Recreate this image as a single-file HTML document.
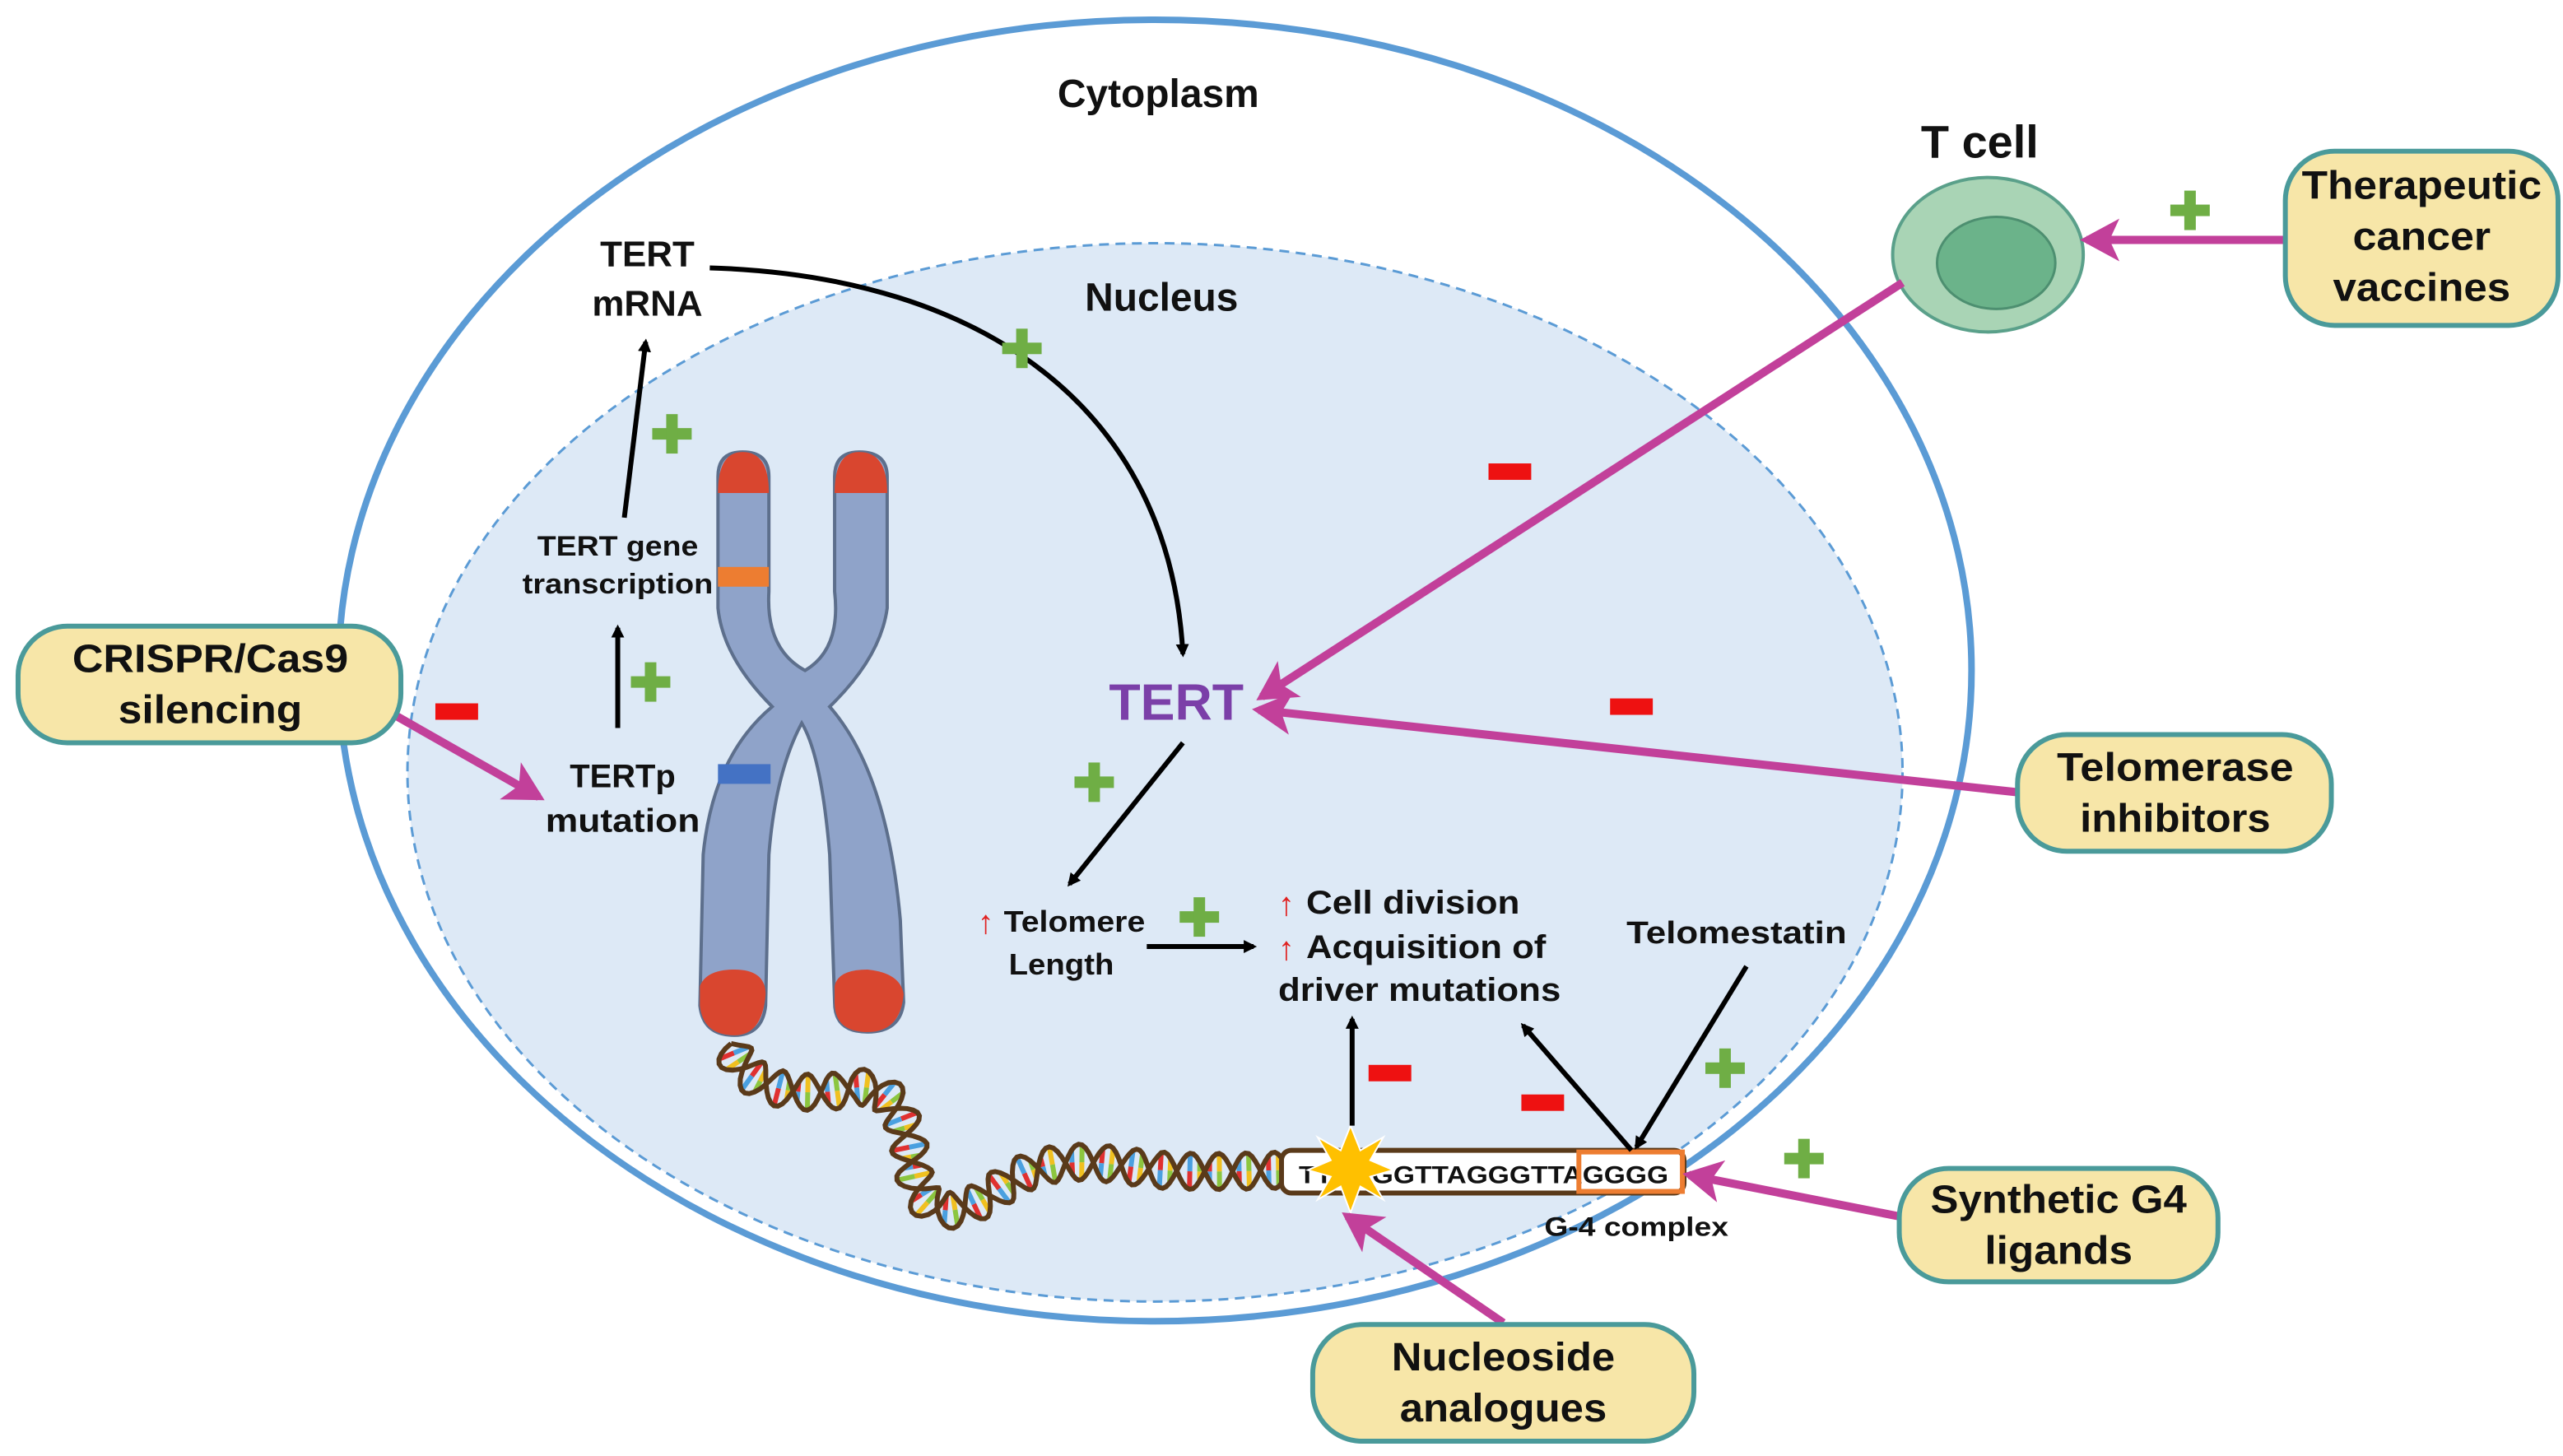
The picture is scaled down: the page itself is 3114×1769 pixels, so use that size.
<!DOCTYPE html>
<html><head><meta charset="utf-8"><style>
html,body{margin:0;padding:0;background:#fff;}
svg{display:block;}
text{font-family:"Liberation Sans",sans-serif;font-weight:bold;fill:#111;text-anchor:middle;}
</style></head><body>
<svg id="s" width="3114" height="1769" viewBox="0 0 1560 886" preserveAspectRatio="none" xmlns="http://www.w3.org/2000/svg">
<defs>
<marker id="ab" markerWidth="8" markerHeight="8" refX="6" refY="4" orient="auto" markerUnits="userSpaceOnUse"><path d="M0,0 L8,4 L0,8 z" fill="#000"/></marker>
<marker id="am" markerWidth="26" markerHeight="26" refX="20" refY="13" orient="auto" markerUnits="userSpaceOnUse"><path d="M0,0 L24,13 L0,26 L6,13 z" fill="#c2409a"/></marker>
</defs>
<rect width="1560" height="886" fill="#fff"/>
<ellipse cx="703" cy="408" rx="497" ry="396" fill="#fff" stroke="#5b9bd5" stroke-width="4"/>
<ellipse cx="703" cy="470" rx="455" ry="322" fill="#dde9f6" stroke="#5b9bd5" stroke-width="1.5" stroke-dasharray="6,4"/>
<text x="705" y="65" font-size="24">Cytoplasm</text>
<text x="707" y="189" font-size="24">Nucleus</text>
<text x="1205" y="96" font-size="28">T cell</text>
<!-- chromosome -->
<path d="M437,290 Q437,275 452,275 Q468,275 468,290 L468,360 Q466,395 490,408 Q512,395 508,360 L508,290 Q508,275 523,275 Q540,275 540,290 L540,370 Q536,400 505,430 Q540,470 548,560 L550,610 Q548,628 528,628 Q508,628 508,610 L505,520 Q500,460 488,440 Q472,470 468,520 L466,612 Q464,630 447,630 Q428,630 426,612 L428,520 Q434,460 470,430 Q440,400 437,370 Z" fill="#8fa3c9" stroke="#5d6f8c" stroke-width="2"/>
<path d="M437,300 Q437,275 452,275 Q468,275 468,300 Z" fill="#d9462f"/>
<path d="M508,300 Q508,275 523,275 Q540,275 540,300 Z" fill="#d9462f"/>
<path d="M426,600 Q430,590 447,590 Q466,590 466,605 Q464,630 447,630 Q428,630 426,612 Z" fill="#d9462f"/>
<path d="M508,600 Q510,590 528,590 Q548,592 550,605 Q548,628 528,628 Q508,628 508,610 Z" fill="#d9462f"/>
<rect x="437" y="345" width="31" height="12" fill="#ed7d31"/>
<rect x="437" y="465" width="32" height="12" fill="#4472c4"/>
<!-- DNA -->
<g id="dna" fill="none" stroke="#5a3a1a" stroke-width="3">
<path d="M445,635 C450,660 480,670 520,662 C548,658 552,690 556,712 C560,740 580,745 610,722 C640,700 670,708 705,712 C740,714 765,712 790,712"/>
</g>
<rect x="780" y="700" width="245" height="26" rx="6" fill="#fff" stroke="#5a3a1a" stroke-width="3"/>
<text x="903" y="720" font-size="15" textLength="225" lengthAdjust="spacingAndGlyphs">TTAGGGTTAGGGTTAGGGG</text>
<rect x="961" y="701" width="63" height="24" fill="none" stroke="#ed7d31" stroke-width="3"/>
<polygon points="822,685 828,700 842,692 834,706 848,712 834,716 842,730 828,722 822,738 816,722 802,730 810,716 796,712 810,706 802,692 816,700" fill="#ffc000" stroke="#fff" stroke-width="1"/>
<text x="996" y="752" font-size="16" textLength="112" lengthAdjust="spacingAndGlyphs">G-4 complex</text>
<!-- texts -->
<text x="394" y="162" font-size="22">TERT</text>
<text x="394" y="192" font-size="22">mRNA</text>
<text x="376" y="338" font-size="17" textLength="98" lengthAdjust="spacingAndGlyphs">TERT gene</text>
<text x="376" y="361" font-size="17" textLength="116" lengthAdjust="spacingAndGlyphs">transcription</text>
<text x="379" y="479" font-size="20">TERTp</text>
<text x="379" y="506" font-size="20" textLength="94" lengthAdjust="spacingAndGlyphs">mutation</text>
<text x="716" y="438" font-size="31" style="fill:#7b3fa8" textLength="82" lengthAdjust="spacingAndGlyphs">TERT</text>
<text x="654" y="567" font-size="18" textLength="86" lengthAdjust="spacingAndGlyphs">Telomere</text>
<text x="646" y="593" font-size="18" textLength="64" lengthAdjust="spacingAndGlyphs">Length</text>
<text x="600" y="568" font-size="20" style="fill:#e02020">↑</text>
<text x="860" y="556" font-size="20" textLength="130" lengthAdjust="spacingAndGlyphs">Cell division</text>
<text x="868" y="583" font-size="20" textLength="146" lengthAdjust="spacingAndGlyphs">Acquisition of</text>
<text x="864" y="609" font-size="20" textLength="172" lengthAdjust="spacingAndGlyphs">driver mutations</text>
<text x="783" y="557" font-size="20" style="fill:#e02020">↑</text>
<text x="783" y="584" font-size="20" style="fill:#e02020">↑</text>
<text x="1057" y="574" font-size="19" textLength="134" lengthAdjust="spacingAndGlyphs">Telomestatin</text>
<!-- black arrows -->
<g stroke="#000" stroke-width="3" fill="none" marker-end="url(#ab)">
<path d="M432,163 C600,168 712,250 720,398"/>
<line x1="380" y1="315" x2="393" y2="208"/>
<line x1="376" y1="443" x2="376" y2="382"/>
<line x1="720" y1="452" x2="651" y2="538"/>
<line x1="698" y1="576" x2="763" y2="576"/>
<line x1="823" y1="685" x2="823" y2="620"/>
<line x1="993" y1="700" x2="927" y2="624"/>
<line x1="1063" y1="588" x2="996" y2="698"/>
</g>
<!-- T cell -->
<ellipse cx="1210" cy="155" rx="58" ry="47" fill="#a9d4b5" stroke="#5aa08a" stroke-width="2"/>
<ellipse cx="1215" cy="160" rx="36" ry="28" fill="#6bb38a" stroke="#4d8f70" stroke-width="1.5"/>
<!-- magenta arrows -->
<g stroke="#c2409a" stroke-width="5" fill="none" marker-end="url(#am)">
<line x1="1390" y1="146" x2="1270" y2="146"/>
<line x1="1158" y1="172" x2="768" y2="424"/>
<line x1="1227" y1="482" x2="766" y2="432"/>
<line x1="240" y1="435" x2="328" y2="485"/>
<line x1="1155" y1="740" x2="1028" y2="715"/>
<line x1="915" y1="805" x2="820" y2="740"/>
</g>
<!-- boxes -->
<g fill="#f7e6a8" stroke="#4a9a9a" stroke-width="3">
<rect x="11" y="381" width="233" height="71" rx="30"/>
<rect x="1391" y="92" width="166" height="106" rx="30"/>
<rect x="1228" y="447" width="191" height="71" rx="30"/>
<rect x="1156" y="711" width="194" height="69" rx="30"/>
<rect x="799" y="806" width="232" height="71" rx="30"/>
</g>
<text x="128" y="409" font-size="24" textLength="168" lengthAdjust="spacingAndGlyphs">CRISPR/Cas9</text>
<text x="128" y="440" font-size="24" textLength="112" lengthAdjust="spacingAndGlyphs">silencing</text>
<text x="1474" y="121" font-size="24" textLength="146" lengthAdjust="spacingAndGlyphs">Therapeutic</text>
<text x="1474" y="152" font-size="24" textLength="84" lengthAdjust="spacingAndGlyphs">cancer</text>
<text x="1474" y="183" font-size="24" textLength="108" lengthAdjust="spacingAndGlyphs">vaccines</text>
<text x="1324" y="475" font-size="24" textLength="144" lengthAdjust="spacingAndGlyphs">Telomerase</text>
<text x="1324" y="506" font-size="24" textLength="116" lengthAdjust="spacingAndGlyphs">inhibitors</text>
<text x="1253" y="738" font-size="24" textLength="156" lengthAdjust="spacingAndGlyphs">Synthetic G4</text>
<text x="1253" y="769" font-size="24" textLength="90" lengthAdjust="spacingAndGlyphs">ligands</text>
<text x="915" y="834" font-size="24" textLength="136" lengthAdjust="spacingAndGlyphs">Nucleoside</text>
<text x="915" y="865" font-size="24" textLength="126" lengthAdjust="spacingAndGlyphs">analogues</text>
<!-- plus -->
<g fill="#6fae45">
<g transform="translate(622,212)"><rect x="-12" y="-3.5" width="24" height="7"/><rect x="-3.5" y="-12" width="7" height="24"/></g>
<g transform="translate(409,264)"><rect x="-12" y="-3.5" width="24" height="7"/><rect x="-3.5" y="-12" width="7" height="24"/></g>
<g transform="translate(396,415)"><rect x="-12" y="-3.5" width="24" height="7"/><rect x="-3.5" y="-12" width="7" height="24"/></g>
<g transform="translate(666,476)"><rect x="-12" y="-3.5" width="24" height="7"/><rect x="-3.5" y="-12" width="7" height="24"/></g>
<g transform="translate(730,558)"><rect x="-12" y="-3.5" width="24" height="7"/><rect x="-3.5" y="-12" width="7" height="24"/></g>
<g transform="translate(1333,128)"><rect x="-12" y="-3.5" width="24" height="7"/><rect x="-3.5" y="-12" width="7" height="24"/></g>
<g transform="translate(1050,650)"><rect x="-12" y="-3.5" width="24" height="7"/><rect x="-3.5" y="-12" width="7" height="24"/></g>
<g transform="translate(1098,705)"><rect x="-12" y="-3.5" width="24" height="7"/><rect x="-3.5" y="-12" width="7" height="24"/></g>
</g>
<!-- minus -->
<g fill="#ee1111">
<rect x="906" y="282" width="26" height="10"/>
<rect x="265" y="428" width="26" height="10"/>
<rect x="980" y="425" width="26" height="10"/>
<rect x="833" y="648" width="26" height="10"/>
<rect x="926" y="666" width="26" height="10"/>
</g>
</svg>
<script>
(function(){
var NS="http://www.w3.org/2000/svg";
var g=document.getElementById("dna");
var base=g.querySelector("path");
var L=base.getTotalLength();
var cols=["#e03030","#4aa0e0","#f0c020","#8cc63f"];
var amp=11,per=34,n=Math.floor(L/2);
var d1="",d2="",rungs=[];
for(var i=0;i<=n;i++){
 var s=i*2;var p=base.getPointAtLength(s);var q=base.getPointAtLength(Math.min(L,s+1));
 var dx=q.x-p.x,dy=q.y-p.y,m=Math.hypot(dx,dy)||1;var nx=-dy/m,ny=dx/m;
 var a=Math.sin(2*Math.PI*s/per)*amp;
 d1+=(i?"L":"M")+(p.x+nx*a).toFixed(1)+","+(p.y+ny*a).toFixed(1);
 d2+=(i?"L":"M")+(p.x-nx*a).toFixed(1)+","+(p.y-ny*a).toFixed(1);
 if(i%3==0&&Math.abs(a)>5){rungs.push([p.x+nx*a,p.y+ny*a,p.x-nx*a,p.y-ny*a,i]);}
}
base.remove();
rungs.forEach(function(r,k){
 var mx=(r[0]+r[2])/2,my=(r[1]+r[3])/2;
 [[r[0],r[1]],[r[2],r[3]]].forEach(function(e,j){
 var l=document.createElementNS(NS,"line");
 l.setAttribute("x1",e[0]);l.setAttribute("y1",e[1]);l.setAttribute("x2",mx);l.setAttribute("y2",my);
 l.setAttribute("stroke",cols[(k*2+j)%4]);l.setAttribute("stroke-width","3");g.appendChild(l);});
});
[d1,d2].forEach(function(d){var p=document.createElementNS(NS,"path");p.setAttribute("d",d);g.appendChild(p);});
})();
</script>
</body></html>
